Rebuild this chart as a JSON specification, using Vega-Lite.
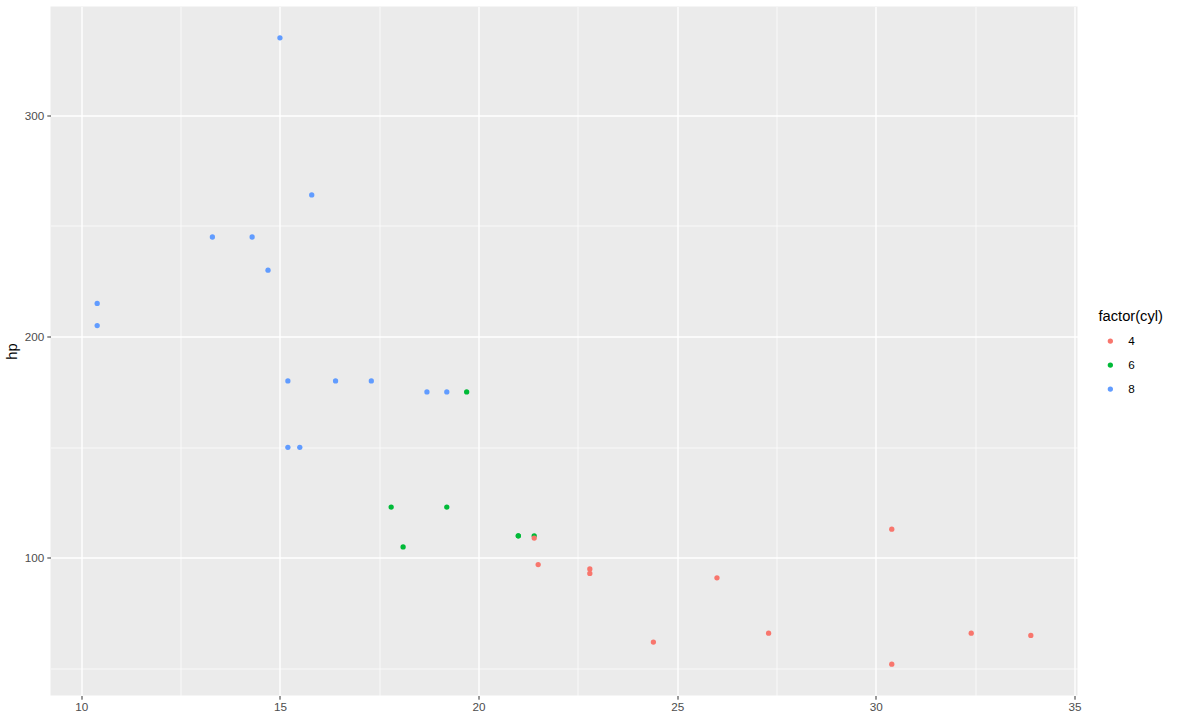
{
  "$schema": "https://vega.github.io/schema/vega-lite/v6.json",
  "autosize": {"type": "none"},
  "width": 1027,
  "height": 689,
  "padding": {"left": 50.5, "top": 6.5, "right": 105.5, "bottom": 26.5},
  "background": "white",
  "config": {
    "view": {"fill": "#EBEBEB", "stroke": null},
    "font": "Liberation Sans"
  },
  "data": {
    "values": [
      {"model": "Mazda RX4", "mpg": 21.0, "cyl": "6", "hp": 110},
      {"model": "Mazda RX4 Wag", "mpg": 21.0, "cyl": "6", "hp": 110},
      {"model": "Datsun 710", "mpg": 22.8, "cyl": "4", "hp": 93},
      {"model": "Hornet 4 Drive", "mpg": 21.4, "cyl": "6", "hp": 110},
      {"model": "Hornet Sportabout", "mpg": 18.7, "cyl": "8", "hp": 175},
      {"model": "Valiant", "mpg": 18.1, "cyl": "6", "hp": 105},
      {"model": "Duster 360", "mpg": 14.3, "cyl": "8", "hp": 245},
      {"model": "Merc 240D", "mpg": 24.4, "cyl": "4", "hp": 62},
      {"model": "Merc 230", "mpg": 22.8, "cyl": "4", "hp": 95},
      {"model": "Merc 280", "mpg": 19.2, "cyl": "6", "hp": 123},
      {"model": "Merc 280C", "mpg": 17.8, "cyl": "6", "hp": 123},
      {"model": "Merc 450SE", "mpg": 16.4, "cyl": "8", "hp": 180},
      {"model": "Merc 450SL", "mpg": 17.3, "cyl": "8", "hp": 180},
      {"model": "Merc 450SLC", "mpg": 15.2, "cyl": "8", "hp": 180},
      {"model": "Cadillac Fleetwood", "mpg": 10.4, "cyl": "8", "hp": 205},
      {"model": "Lincoln Continental", "mpg": 10.4, "cyl": "8", "hp": 215},
      {"model": "Chrysler Imperial", "mpg": 14.7, "cyl": "8", "hp": 230},
      {"model": "Fiat 128", "mpg": 32.4, "cyl": "4", "hp": 66},
      {"model": "Honda Civic", "mpg": 30.4, "cyl": "4", "hp": 52},
      {"model": "Toyota Corolla", "mpg": 33.9, "cyl": "4", "hp": 65},
      {"model": "Toyota Corona", "mpg": 21.5, "cyl": "4", "hp": 97},
      {"model": "Dodge Challenger", "mpg": 15.5, "cyl": "8", "hp": 150},
      {"model": "AMC Javelin", "mpg": 15.2, "cyl": "8", "hp": 150},
      {"model": "Camaro Z28", "mpg": 13.3, "cyl": "8", "hp": 245},
      {"model": "Pontiac Firebird", "mpg": 19.2, "cyl": "8", "hp": 175},
      {"model": "Fiat X1-9", "mpg": 27.3, "cyl": "4", "hp": 66},
      {"model": "Porsche 914-2", "mpg": 26.0, "cyl": "4", "hp": 91},
      {"model": "Lotus Europa", "mpg": 30.4, "cyl": "4", "hp": 113},
      {"model": "Ford Pantera L", "mpg": 15.8, "cyl": "8", "hp": 264},
      {"model": "Ferrari Dino", "mpg": 19.7, "cyl": "6", "hp": 175},
      {"model": "Maserati Bora", "mpg": 15.0, "cyl": "8", "hp": 335},
      {"model": "Volvo 142E", "mpg": 21.4, "cyl": "4", "hp": 109}
    ]
  },
  "mark": {"type": "circle", "size": 28, "opacity": 1},
  "encoding": {
    "x": {
      "field": "mpg",
      "type": "quantitative",
      "title": null,
      "scale": {"domain": [9.225, 35.075], "nice": false, "zero": false},
      "axis": {
        "values": [10, 12.5, 15, 17.5, 20, 22.5, 25, 27.5, 30, 32.5, 35],
        "labelExpr": "datum.value % 5 === 0 ? datum.label : ''",
        "domain": false,
        "grid": true,
        "gridColor": "white",
        "gridWidth": {"condition": {"test": "datum.value % 5 === 0", "value": 1.4}, "value": 0.7},
        "tickColor": "#333333",
        "tickSize": 3.7,
        "tickOpacity": {"condition": {"test": "datum.value % 5 === 0", "value": 1}, "value": 0},
        "labelColor": "#4D4D4D",
        "labelFontSize": 11.7,
        "labelPadding": 2.5,
        "labelFlush": false,
        "labelOverlap": false
      }
    },
    "y": {
      "field": "hp",
      "type": "quantitative",
      "title": "hp",
      "scale": {"domain": [37.85, 349.15], "nice": false, "zero": false},
      "axis": {
        "values": [50, 100, 150, 200, 250, 300],
        "labelExpr": "datum.value % 100 === 0 ? datum.label : ''",
        "domain": false,
        "grid": true,
        "gridColor": "white",
        "gridWidth": {"condition": {"test": "datum.value % 100 === 0", "value": 1.4}, "value": 0.7},
        "tickColor": "#333333",
        "tickSize": 3.7,
        "tickOpacity": {"condition": {"test": "datum.value % 100 === 0", "value": 1}, "value": 0},
        "labelColor": "#4D4D4D",
        "labelFontSize": 11.7,
        "labelPadding": 3,
        "labelFlush": false,
        "labelOverlap": false,
        "titleFontSize": 14.7,
        "titleFontWeight": "normal",
        "titleColor": "black",
        "titlePadding": 5
      }
    },
    "color": {
      "field": "cyl",
      "type": "nominal",
      "title": "factor(cyl)",
      "scale": {"domain": ["4", "6", "8"], "range": ["#F8766D", "#00BA38", "#619CFF"]},
      "legend": {
        "orient": "none",
        "legendX": 1048,
        "legendY": 302,
        "titleFontSize": 14.7,
        "titleFontWeight": "normal",
        "titleColor": "black",
        "titlePadding": 12,
        "labelFontSize": 11.7,
        "labelColor": "black",
        "labelOffset": 12,
        "symbolType": "circle",
        "symbolSize": 28,
        "symbolOffset": 6,
        "rowPadding": 11
      }
    }
  }
}
